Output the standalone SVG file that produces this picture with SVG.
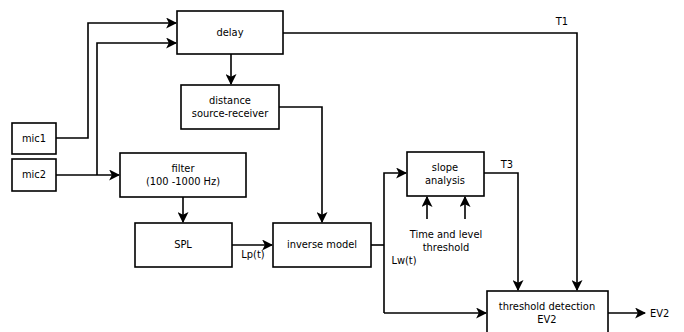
<svg xmlns="http://www.w3.org/2000/svg" width="684" height="332" viewBox="0 0 684 332">
<defs>
<marker id="ah" markerWidth="11" markerHeight="11" viewBox="0 0 10 10" refX="9" refY="5" orient="auto" markerUnits="userSpaceOnUse">
<path d="M0,0 L10,5 L0,10 L2.5,5 Z" fill="#000"/>
</marker>
</defs>
<style>
.box{fill:#fff;stroke:#000;stroke-width:1.6}
.ln{fill:none;stroke:#000;stroke-width:1.6}
text{font-family:"DejaVu Sans","Liberation Sans",sans-serif;font-size:9.9px;fill:#000;text-anchor:middle}
.l{text-anchor:start}
</style>
<rect width="684" height="332" fill="#fff"/>
<g id="connectors">
<polyline class="ln" points="56,138 88,138 88,23 176,23" marker-end="url(#ah)"/>
<polyline class="ln" points="97,175 97,43 176,43" marker-end="url(#ah)"/>
<polyline class="ln" points="56,175 119,175" marker-end="url(#ah)"/>
<polyline class="ln" points="231,54 231,84" marker-end="url(#ah)"/>
<polyline class="ln" points="279,107 322,107 322,222" marker-end="url(#ah)"/>
<polyline class="ln" points="183,197 183,222" marker-end="url(#ah)"/>
<polyline class="ln" points="232,245 272,245" marker-end="url(#ah)"/>
<polyline class="ln" points="371,245 384,245"/>
<polyline class="ln" points="384,313 384,173 406,173" marker-end="url(#ah)"/>
<polyline class="ln" points="384,313 486,313" marker-end="url(#ah)"/>
<polyline class="ln" points="484,173 518,173 518,290" marker-end="url(#ah)"/>
<polyline class="ln" points="283,33 577,33 577,290" marker-end="url(#ah)"/>
<polyline class="ln" points="427,219 427,197" marker-end="url(#ah)"/>
<polyline class="ln" points="465,219 465,197" marker-end="url(#ah)"/>
<polyline class="ln" points="608,313 645,313" marker-end="url(#ah)"/>
<text x="562" y="25">T1</text>
<text x="507" y="168">T3</text>
<text x="253" y="258">Lp(t)</text>
<text x="404" y="264">Lw(t)</text>
<text x="446" y="238">Time and level</text>
<text x="446" y="251">threshold</text>
<text x="650" y="317" class="l">EV2</text>
</g>
<g id="mic1"><rect class="box" x="12" y="123" width="44" height="31"/><text x="34" y="142">mic1</text></g>
<g id="mic2"><rect class="box" x="12" y="159" width="44" height="32"/><text x="34" y="178">mic2</text></g>
<g id="delay"><rect class="box" x="177" y="11" width="106" height="43"/><text x="230" y="36">delay</text></g>
<g id="distance"><rect class="box" x="181" y="85" width="98" height="44"/><text x="230" y="104">distance</text><text x="230" y="117">source-receiver</text></g>
<g id="filter"><rect class="box" x="120" y="153" width="126" height="44"/><text x="183" y="172">filter</text><text x="183" y="185">(100 -1000 Hz)</text></g>
<g id="spl"><rect class="box" x="135" y="223" width="97" height="44"/><text x="183" y="248">SPL</text></g>
<g id="inverse"><rect class="box" x="273" y="223" width="98" height="44"/><text x="322" y="248">inverse model</text></g>
<g id="slope"><rect class="box" x="407" y="152" width="77" height="44"/><text x="445" y="171">slope</text><text x="445" y="184">analysis</text></g>
<g id="threshold"><rect class="box" x="487" y="291" width="121" height="44"/><text x="547" y="310">threshold detection</text><text x="547" y="323">EV2</text></g>
</svg>
